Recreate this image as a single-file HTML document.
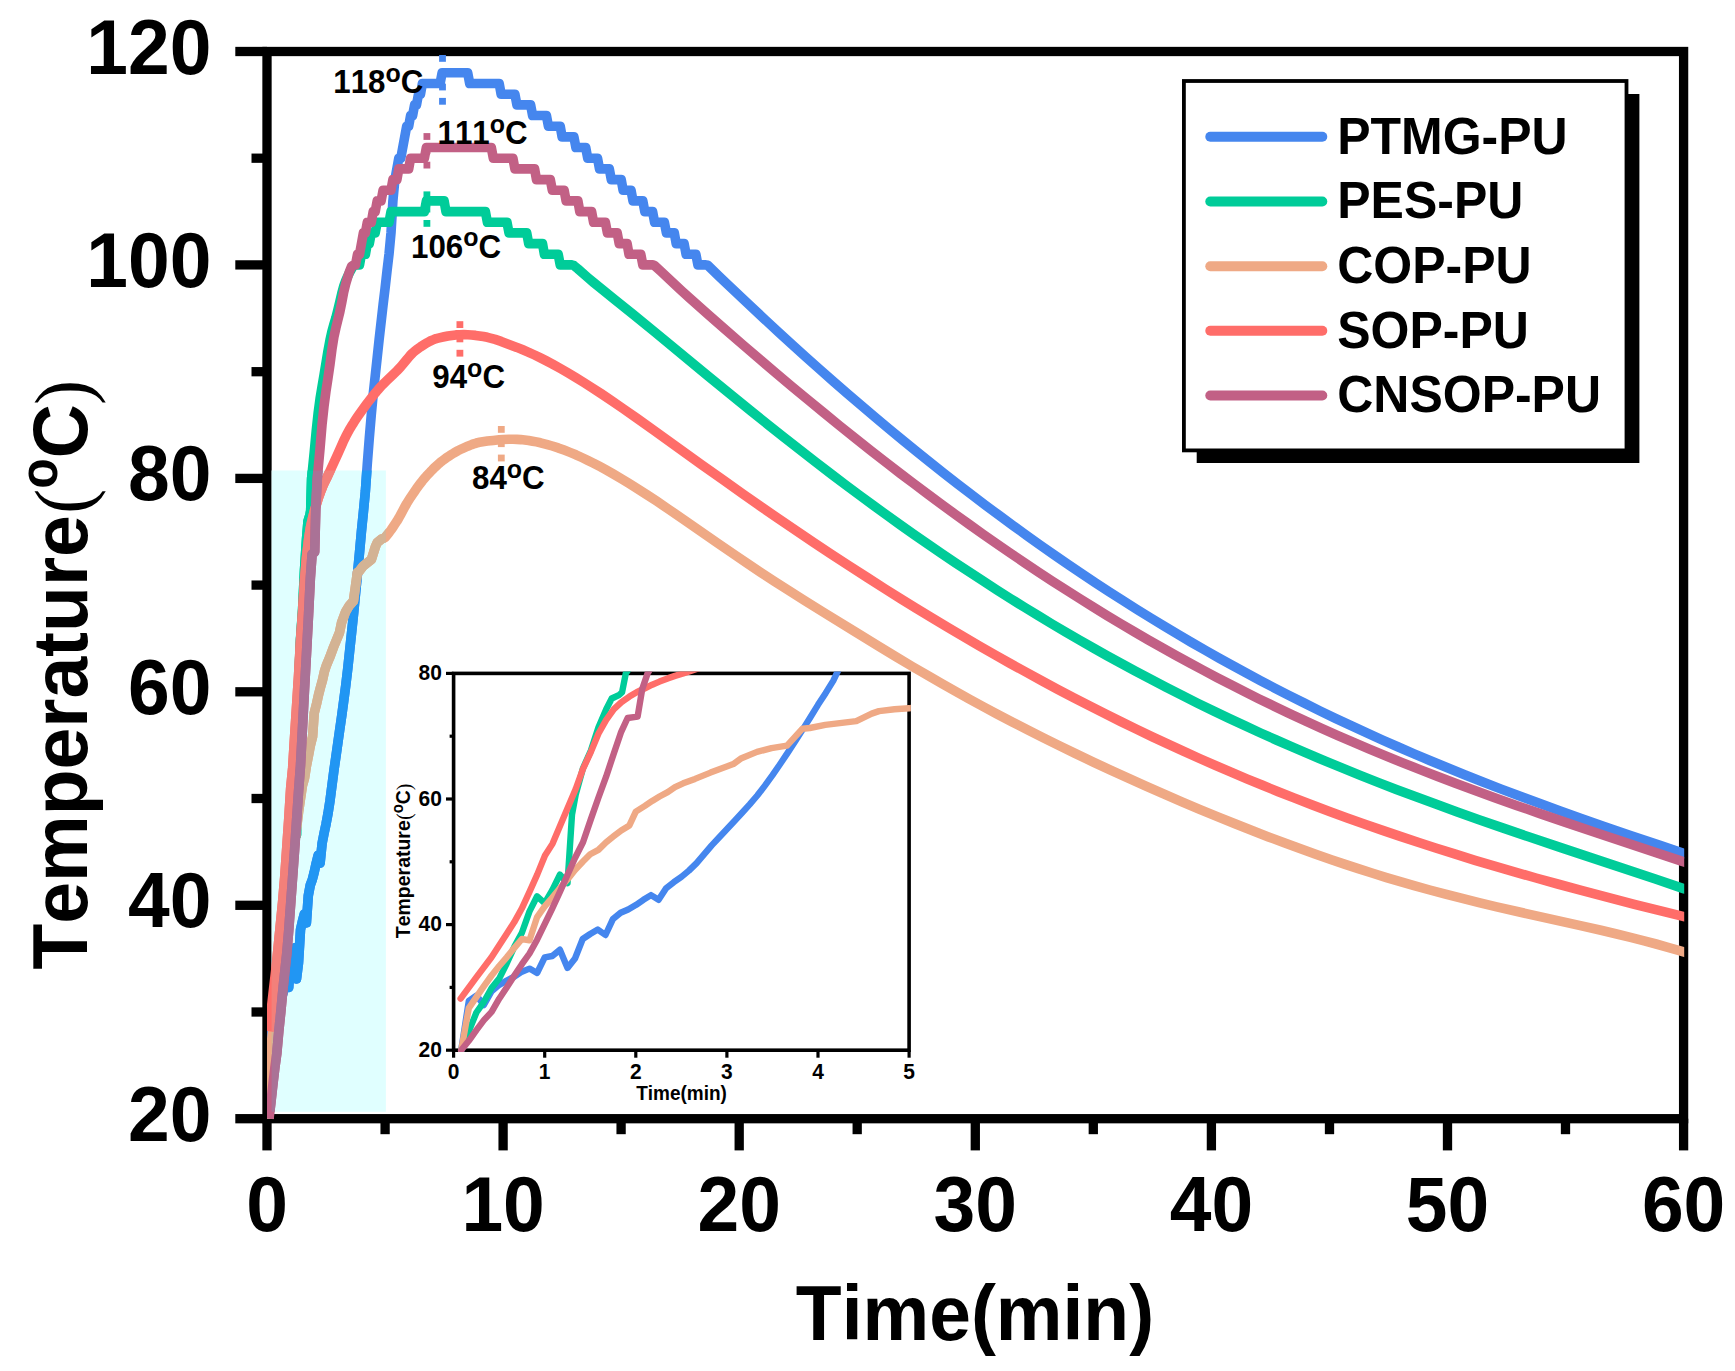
<!DOCTYPE html>
<html lang="en"><head><meta charset="utf-8"><title>Temperature vs Time</title>
<style>html,body{margin:0;padding:0;background:#fff}svg{display:block}text{font-kerning:none}</style></head>
<body>
<svg width="1735" height="1371" viewBox="0 0 1735 1371">
<defs><clipPath id="ic"><rect x="451.8" y="671.6" width="459.1" height="380.4"/></clipPath></defs>
<defs><clipPath id="mc"><rect x="267.0" y="50.5" width="1417.2" height="1069.0"/></clipPath></defs>
<defs><clipPath id="cy"><rect x="271.6" y="470.5" width="114.3" height="641.3"/></clipPath></defs>
<rect width="1735" height="1371" fill="#fff"/>
<g stroke="#000" stroke-width="9.3" fill="none" stroke-linecap="butt">
<rect x="267.0" y="51.5" width="1416.6" height="1067.2"/>
<line x1="267.0" y1="1118.7" x2="267.0" y2="1150.4"/>
<line x1="385.1" y1="1118.7" x2="385.1" y2="1134.2"/>
<line x1="503.1" y1="1118.7" x2="503.1" y2="1150.4"/>
<line x1="621.1" y1="1118.7" x2="621.1" y2="1134.2"/>
<line x1="739.2" y1="1118.7" x2="739.2" y2="1150.4"/>
<line x1="857.2" y1="1118.7" x2="857.2" y2="1134.2"/>
<line x1="975.3" y1="1118.7" x2="975.3" y2="1150.4"/>
<line x1="1093.3" y1="1118.7" x2="1093.3" y2="1134.2"/>
<line x1="1211.4" y1="1118.7" x2="1211.4" y2="1150.4"/>
<line x1="1329.5" y1="1118.7" x2="1329.5" y2="1134.2"/>
<line x1="1447.5" y1="1118.7" x2="1447.5" y2="1150.4"/>
<line x1="1565.5" y1="1118.7" x2="1565.5" y2="1134.2"/>
<line x1="1683.6" y1="1118.7" x2="1683.6" y2="1150.4"/>
<line x1="267.0" y1="1118.7" x2="235.3" y2="1118.7"/>
<line x1="267.0" y1="1012.0" x2="251.5" y2="1012.0"/>
<line x1="267.0" y1="905.3" x2="235.3" y2="905.3"/>
<line x1="267.0" y1="798.5" x2="251.5" y2="798.5"/>
<line x1="267.0" y1="691.8" x2="235.3" y2="691.8"/>
<line x1="267.0" y1="585.1" x2="251.5" y2="585.1"/>
<line x1="267.0" y1="478.4" x2="235.3" y2="478.4"/>
<line x1="267.0" y1="371.7" x2="251.5" y2="371.7"/>
<line x1="267.0" y1="264.9" x2="235.3" y2="264.9"/>
<line x1="267.0" y1="158.2" x2="251.5" y2="158.2"/>
<line x1="267.0" y1="51.5" x2="235.3" y2="51.5"/>
</g>
<rect x="271.6" y="470.5" width="114.3" height="641.3" fill="#E0FFFF"/>
<g fill="none" stroke-width="9.6" stroke-linejoin="round" stroke-linecap="butt" clip-path="url(#mc)">
<path stroke="#4586EE" d="M269.0,1118.7 L270.9,1034.9 L272.9,1025.9 L274.9,1041.9 L276.8,1018.4 L278.8,1007.7 L280.8,1000.2 L282.7,993.8 L284.7,985.3 L286.7,980.0 L288.7,987.4 L290.6,960.8 L292.6,958.6 L294.6,947.9 L296.5,978.9 L298.5,962.9 L300.5,929.8 L302.4,921.3 L304.4,913.8 L306.4,922.9 L308.3,895.7 L310.3,885.0 L312.3,879.6 L314.2,872.2 L316.2,863.1 L318.2,855.1 L320.1,863.1 L322.1,843.4 L324.1,833.2 L326.0,824.2 L328.0,813.5 L330.0,800.7 L333.9,770.6 L335.9,756.7 L339.8,729.2 L341.8,715.2 L343.7,701.0 L345.7,685.8 L347.7,669.1 L349.6,651.2 L351.6,632.6 L353.6,613.4 L355.5,593.8 L357.5,573.6 L359.5,552.7 L361.4,531.7 L363.4,512.0 L365.4,491.0 L367.3,463.9 L369.3,438.2 L371.3,414.7 L373.2,394.4 L375.2,375.9 L377.2,357.5 L379.1,339.8 L383.1,304.6 L385.1,288.2 L387.0,271.1 L389.0,254.3 L391.0,232.9 L392.9,200.9 L394.9,179.6 L398.8,158.2 L400.8,158.2 L406.7,126.2 L408.7,126.2 L410.6,115.5 L412.6,115.5 L414.6,104.9 L416.5,104.9 L418.5,94.2 L420.5,94.2 L422.4,83.5 L440.1,83.5 L442.1,72.8 L467.7,72.8 L469.7,83.5 L499.2,83.5 L501.1,94.2 L514.9,94.2 L516.9,104.9 L530.6,104.9 L532.6,115.5 L546.4,115.5 L548.4,126.2 L560.2,126.2 L562.1,136.9 L573.9,136.9 L575.9,147.5 L585.7,147.5 L587.7,158.2 L597.5,158.2 L599.5,168.9 L609.3,168.9 L611.3,179.6 L621.2,179.6 L623.1,190.2 L631.0,190.2 L633.0,200.9 L642.8,200.9 L644.8,211.6 L652.6,211.6 L654.6,222.3 L664.4,222.3 L666.4,232.9 L674.3,232.9 L676.2,243.6 L684.1,243.6 L686.1,254.3 L695.9,254.3 L697.9,264.9 L705.8,264.9 L707.7,265.3 L719.5,276.8 L727.4,284.3 L751.0,306.6 L764.8,319.4 L778.6,332.2 L792.3,344.7 L806.1,357.2 L819.9,369.5 L833.6,381.6 L847.4,393.6 L861.2,405.4 L875.0,417.1 L888.7,428.7 L902.5,440.0 L916.3,451.2 L930.0,462.3 L943.8,473.2 L957.6,484.0 L971.4,494.5 L985.1,505.0 L998.9,515.2 L1012.7,525.3 L1026.5,535.3 L1040.2,545.1 L1054.0,554.7 L1067.8,564.2 L1081.5,573.5 L1095.3,582.7 L1109.1,591.7 L1122.9,600.5 L1136.6,609.2 L1150.4,617.8 L1164.2,626.1 L1178.0,634.4 L1191.7,642.5 L1205.5,650.4 L1219.3,658.2 L1233.0,665.8 L1246.8,673.3 L1260.6,680.7 L1274.4,687.9 L1288.1,695.0 L1303.9,702.9 L1319.6,710.7 L1335.4,718.3 L1351.1,725.7 L1366.8,732.9 L1382.6,740.1 L1398.3,747.0 L1414.1,753.8 L1429.8,760.5 L1447.5,767.8 L1465.2,775.0 L1482.9,782.0 L1500.6,788.9 L1520.3,796.3 L1540.0,803.6 L1559.6,810.8 L1581.3,818.5 L1604.9,826.7 L1630.5,835.5 L1660.0,845.4 L1683.6,853.3 L1693.0,856.4"/>
<path stroke="#2196F3" clip-path="url(#cy)" d="M269.0,1118.7 L270.9,1034.9 L272.9,1025.9 L274.9,1041.9 L276.8,1018.4 L278.8,1007.7 L280.8,1000.2 L282.7,993.8 L284.7,985.3 L286.7,980.0 L288.7,987.4 L290.6,960.8 L292.6,958.6 L294.6,947.9 L296.5,978.9 L298.5,962.9 L300.5,929.8 L302.4,921.3 L304.4,913.8 L306.4,922.9 L308.3,895.7 L310.3,885.0 L312.3,879.6 L314.2,872.2 L316.2,863.1 L318.2,855.1 L320.1,863.1 L322.1,843.4 L324.1,833.2 L326.0,824.2 L328.0,813.5 L330.0,800.7 L333.9,770.6 L335.9,756.7 L339.8,729.2 L341.8,715.2 L343.7,701.0 L345.7,685.8 L347.7,669.1 L349.6,651.2 L351.6,632.6 L353.6,613.4 L355.5,593.8 L357.5,573.6 L359.5,552.7 L361.4,531.7 L363.4,512.0 L365.4,491.0 L367.3,463.9 L369.3,438.2 L371.3,414.7 L373.2,394.4 L375.2,375.9 L377.2,357.5 L379.1,339.8 L383.1,304.6 L385.1,288.2 L387.0,271.1 L389.0,254.3 L391.0,232.9 L392.9,200.9 L394.9,179.6 L398.8,158.2 L400.8,158.2 L406.7,126.2 L408.7,126.2 L410.6,115.5 L412.6,115.5 L414.6,104.9 L416.5,104.9 L418.5,94.2 L420.5,94.2 L422.4,83.5 L440.1,83.5 L442.1,72.8 L453.9,72.8"/>
<path stroke="#00CC99" d="M269.0,1118.7 L270.9,1086.7 L272.9,1054.7 L274.9,1036.5 L276.8,1013.0 L278.8,997.0 L280.8,971.4 L282.7,942.6 L284.7,919.1 L286.7,882.8 L288.7,857.2 L290.6,869.0 L292.6,846.6 L294.6,820.4 L296.5,834.8 L297.7,718.5 L298.6,684.3 L300.5,639.5 L302.6,609.6 L304.5,570.2 L306.5,539.2 L308.0,521.1 L310.0,514.7 L310.7,510.4 L311.6,478.4 L314.2,452.6 L316.2,431.2 L318.2,412.6 L320.1,398.4 L322.1,386.2 L324.1,374.6 L328.0,350.8 L330.0,340.1 L331.9,331.5 L333.9,324.3 L335.9,317.6 L337.8,310.3 L339.8,301.9 L341.8,293.3 L343.7,286.1 L345.7,280.8 L347.7,276.3 L349.6,272.4 L351.6,268.8 L353.6,265.5 L355.5,264.9 L359.5,264.9 L361.4,254.3 L365.4,254.3 L367.3,243.6 L369.3,243.6 L371.3,232.9 L375.2,232.9 L377.2,222.3 L389.0,222.3 L391.0,211.6 L424.4,211.6 L426.4,200.9 L444.1,200.9 L446.0,211.6 L485.4,211.6 L487.4,222.3 L507.0,222.3 L509.0,232.9 L526.7,232.9 L528.7,243.6 L542.5,243.6 L544.4,254.3 L558.2,254.3 L560.2,264.9 L572.0,264.9 L573.9,265.6 L577.9,268.9 L587.7,277.5 L593.6,282.5 L599.5,287.3 L615.2,299.9 L633.0,314.2 L654.6,331.9 L707.7,375.7 L731.3,395.0 L751.0,411.0 L768.7,425.2 L784.5,437.7 L800.2,450.1 L815.9,462.3 L831.7,474.4 L845.4,484.8 L859.2,495.0 L873.0,505.2 L886.8,515.2 L900.5,525.0 L914.3,534.7 L928.1,544.3 L941.9,553.7 L955.6,563.0 L969.4,572.1 L983.2,581.1 L996.9,590.0 L1010.7,598.7 L1024.5,607.3 L1038.3,615.7 L1052.0,624.0 L1065.8,632.1 L1079.6,640.1 L1093.4,648.0 L1107.1,655.7 L1120.9,663.3 L1134.7,670.8 L1150.4,679.1 L1166.1,687.3 L1181.9,695.3 L1197.6,703.2 L1213.4,710.9 L1229.1,718.4 L1244.8,725.7 L1260.6,733.0 L1276.3,740.0 L1292.1,746.9 L1307.8,753.7 L1325.5,761.2 L1343.2,768.4 L1360.9,775.6 L1378.6,782.6 L1396.3,789.4 L1416.0,796.8 L1435.7,804.1 L1457.3,812.0 L1479.0,819.7 L1502.6,827.9 L1530.1,837.3 L1561.6,847.9 L1656.1,879.3 L1683.6,888.6 L1693.0,891.7"/>
<path stroke="#00D2A4" clip-path="url(#cy)" d="M269.0,1118.7 L270.9,1086.7 L272.9,1054.7 L274.9,1036.5 L276.8,1013.0 L278.8,997.0 L280.8,971.4 L282.7,942.6 L284.7,919.1 L286.7,882.8 L288.7,857.2 L290.6,869.0 L292.6,846.6 L294.6,820.4 L296.5,834.8 L297.7,718.5 L298.6,684.3 L300.5,639.5 L302.6,609.6 L304.5,570.2 L306.5,539.2 L308.0,521.1 L310.0,514.7 L310.7,510.4 L311.6,478.4 L314.2,452.6 L316.2,431.2 L318.2,412.6 L320.1,398.4 L322.1,386.2 L324.1,374.6 L328.0,350.8 L330.0,340.1 L331.9,331.5 L333.9,324.3 L335.9,317.6 L337.8,310.3 L339.8,301.9 L341.8,293.3 L343.7,286.1 L345.7,280.8 L347.7,276.3 L349.6,272.4 L351.6,268.8 L353.6,265.5 L355.5,264.9 L359.5,264.9 L361.4,254.3 L365.4,254.3 L367.3,243.6 L369.3,243.6 L371.3,232.9 L375.2,232.9 L377.2,222.3 L389.0,222.3 L391.0,211.6 L424.4,211.6 L426.4,200.9 L444.1,200.9 L446.0,211.6 L453.9,211.6"/>
<path stroke="#EFA985" d="M269.0,1118.7 L270.9,1047.2 L274.9,1009.8 L276.8,991.7 L278.8,975.7 L280.8,960.8 L282.7,944.7 L284.7,929.8 L286.7,931.9 L288.7,892.5 L290.6,874.3 L292.6,859.4 L294.6,843.4 L296.5,828.4 L298.5,812.4 L300.5,798.5 L302.4,785.7 L304.5,778.3 L306.5,765.5 L308.6,754.8 L310.4,745.2 L312.6,736.6 L314.2,713.2 L316.6,703.6 L318.5,695.0 L320.4,687.6 L322.5,680.1 L324.4,671.5 L326.5,665.1 L329.6,657.7 L333.6,647.0 L339.5,632.6 L341.6,622.5 L345.6,611.8 L349.4,605.4 L353.4,601.1 L357.4,572.3 L359.3,571.2 L363.3,565.9 L371.4,559.5 L375.4,546.7 L377.3,542.4 L381.3,539.2 L385.1,537.6 L389.0,532.7 L391.0,530.0 L392.9,527.2 L394.9,524.2 L396.9,521.2 L398.8,518.0 L400.8,514.4 L404.7,507.0 L406.7,503.5 L410.6,497.3 L412.6,494.3 L414.6,491.4 L416.5,488.6 L418.5,485.9 L420.5,483.3 L422.4,480.8 L424.4,478.4 L426.4,476.1 L430.3,471.9 L432.3,469.9 L434.2,467.9 L436.2,466.1 L438.2,464.3 L440.1,462.6 L442.1,461.0 L446.0,458.1 L450.0,455.4 L453.9,453.0 L457.8,450.8 L461.8,448.8 L467.7,446.2 L471.6,444.6 L473.6,443.9 L475.6,443.3 L477.5,442.7 L479.5,442.3 L487.4,441.1 L493.3,440.4 L499.2,439.8 L503.1,439.5 L509.0,439.3 L512.9,439.3 L516.9,439.4 L520.8,439.6 L524.7,440.0 L528.7,440.5 L532.6,441.2 L536.5,441.9 L540.5,442.8 L546.4,444.3 L552.3,446.0 L558.2,447.9 L564.1,450.1 L570.0,452.4 L575.9,454.8 L581.8,457.5 L587.7,460.3 L593.6,463.2 L599.5,466.3 L605.4,469.5 L613.3,474.0 L621.1,478.6 L629.0,483.4 L636.9,488.3 L646.7,494.6 L656.6,501.1 L668.4,509.1 L684.1,519.9 L717.6,543.1 L733.3,553.9 L747.1,563.2 L760.8,572.4 L774.6,581.5 L788.4,590.3 L804.1,600.3 L823.8,612.5 L853.3,630.7 L878.9,646.4 L896.6,657.1 L912.3,666.5 L928.1,675.7 L941.9,683.6 L955.6,691.4 L969.4,699.1 L983.2,706.6 L996.9,713.9 L1012.7,722.2 L1028.4,730.3 L1044.2,738.2 L1059.9,746.0 L1075.6,753.6 L1093.3,762.1 L1111.1,770.3 L1128.8,778.4 L1146.5,786.4 L1164.2,794.2 L1181.9,801.8 L1199.6,809.3 L1217.3,816.6 L1235.0,823.8 L1252.7,830.8 L1268.5,836.9 L1284.2,842.8 L1299.9,848.6 L1315.7,854.3 L1331.4,859.8 L1345.2,864.4 L1359.0,868.9 L1372.7,873.3 L1386.5,877.6 L1400.3,881.7 L1414.1,885.6 L1429.8,890.0 L1445.5,894.2 L1461.3,898.2 L1479.0,902.6 L1496.7,906.8 L1518.3,911.8 L1579.3,925.4 L1601.0,930.3 L1616.7,934.0 L1630.5,937.3 L1644.2,940.8 L1656.1,944.0 L1667.9,947.3 L1677.7,950.1 L1683.6,951.9 L1693.0,954.7"/>
<path stroke="#D3B394" clip-path="url(#cy)" d="M269.0,1118.7 L270.9,1047.2 L274.9,1009.8 L276.8,991.7 L278.8,975.7 L280.8,960.8 L282.7,944.7 L284.7,929.8 L286.7,931.9 L288.7,892.5 L290.6,874.3 L292.6,859.4 L294.6,843.4 L296.5,828.4 L298.5,812.4 L300.5,798.5 L302.4,785.7 L304.5,778.3 L306.5,765.5 L308.6,754.8 L310.4,745.2 L312.6,736.6 L314.2,713.2 L316.6,703.6 L318.5,695.0 L320.4,687.6 L322.5,680.1 L324.4,671.5 L326.5,665.1 L329.6,657.7 L333.6,647.0 L339.5,632.6 L341.6,622.5 L345.6,611.8 L349.4,605.4 L353.4,601.1 L357.4,572.3 L359.3,571.2 L363.3,565.9 L371.4,559.5 L375.4,546.7 L377.3,542.4 L381.3,539.2 L385.1,537.6 L389.0,532.7 L391.0,530.0 L392.9,527.2 L394.9,524.2 L396.9,521.2 L398.8,518.0 L400.8,514.4 L404.7,507.0 L406.7,503.5 L410.6,497.3 L412.6,494.3 L414.6,491.4 L416.5,488.6 L418.5,485.9 L420.5,483.3 L422.4,480.8 L424.4,478.4 L426.4,476.1 L430.3,471.9 L432.3,469.9 L434.2,467.9 L436.2,466.1 L438.2,464.3 L440.1,462.6 L442.1,461.0 L446.0,458.1 L450.0,455.4 L453.9,453.0 L455.9,451.8"/>
<path stroke="#FF6D69" d="M268.8,1031.2 L272.9,994.9 L276.8,960.8 L280.7,921.3 L282.7,901.0 L284.7,877.5 L286.7,848.7 L288.7,819.9 L290.7,787.9 L292.7,767.6 L294.6,736.6 L298.6,674.7 L300.5,640.6 L302.6,611.8 L304.5,580.8 L306.5,557.4 L308.6,539.2 L310.4,527.5 L312.6,517.9 L314.5,510.4 L316.5,504.0 L318.5,497.6 L320.4,492.3 L322.5,486.9 L324.4,482.6 L326.5,478.4 L333.9,462.4 L337.8,453.9 L341.8,445.1 L343.7,440.7 L345.7,436.6 L347.7,432.8 L349.6,429.2 L351.6,425.9 L353.6,422.8 L355.5,419.7 L357.5,416.8 L361.4,411.2 L367.3,403.1 L371.3,398.0 L375.2,393.1 L377.2,390.7 L379.1,388.5 L381.1,386.3 L383.1,384.2 L387.0,380.4 L392.9,374.8 L396.9,370.9 L398.8,368.9 L400.8,366.7 L406.7,359.6 L408.7,357.2 L410.6,355.0 L412.6,353.0 L414.6,351.2 L416.5,349.7 L420.5,346.9 L424.4,344.4 L426.4,343.2 L428.3,342.1 L430.3,341.0 L432.3,340.1 L434.2,339.3 L436.2,338.6 L438.2,338.1 L444.1,336.8 L448.0,336.0 L451.9,335.4 L455.9,334.9 L459.8,334.7 L463.8,334.6 L467.7,334.8 L471.6,335.0 L475.6,335.4 L479.5,335.9 L483.4,336.5 L487.4,337.3 L491.3,338.3 L495.2,339.4 L501.1,341.4 L509.0,344.4 L516.9,347.4 L522.8,349.8 L528.7,352.3 L534.6,355.0 L540.5,357.9 L546.4,360.9 L552.3,364.0 L560.2,368.4 L568.0,372.9 L575.9,377.6 L583.8,382.5 L591.6,387.5 L601.5,393.9 L611.3,400.5 L623.1,408.6 L636.9,418.2 L654.6,430.8 L701.8,464.8 L723.5,480.2 L743.1,494.1 L760.8,506.5 L778.6,518.7 L796.3,530.7 L814.0,542.7 L831.7,554.4 L849.4,566.0 L867.1,577.4 L884.8,588.7 L900.5,598.6 L916.3,608.3 L932.0,617.9 L947.8,627.4 L963.5,636.7 L979.2,645.8 L995.0,654.8 L1010.7,663.7 L1026.5,672.4 L1042.2,681.0 L1057.9,689.4 L1073.7,697.7 L1089.4,705.8 L1105.2,713.8 L1120.9,721.6 L1136.6,729.3 L1152.4,736.8 L1168.1,744.2 L1183.9,751.4 L1199.6,758.5 L1215.3,765.4 L1231.1,772.2 L1246.8,778.8 L1262.6,785.3 L1278.3,791.7 L1294.0,797.9 L1311.7,804.7 L1329.5,811.4 L1347.2,817.9 L1364.9,824.2 L1382.6,830.4 L1400.3,836.4 L1418.0,842.3 L1435.7,848.0 L1455.4,854.2 L1475.0,860.3 L1494.7,866.1 L1514.4,871.9 L1536.0,878.0 L1557.7,884.0 L1581.3,890.4 L1606.9,897.2 L1634.4,904.3 L1665.9,912.2 L1693.0,918.9"/>
<path stroke="#F3807A" clip-path="url(#cy)" d="M268.8,1031.2 L272.9,994.9 L276.8,960.8 L280.7,921.3 L282.7,901.0 L284.7,877.5 L286.7,848.7 L288.7,819.9 L290.7,787.9 L292.7,767.6 L294.6,736.6 L298.6,674.7 L300.5,640.6 L302.6,611.8 L304.5,580.8 L306.5,557.4 L308.6,539.2 L310.4,527.5 L312.6,517.9 L314.5,510.4 L316.5,504.0 L318.5,497.6 L320.4,492.3 L322.5,486.9 L324.4,482.6 L326.5,478.4 L333.9,462.4 L337.8,453.9 L341.8,445.1 L343.7,440.7 L345.7,436.6 L347.7,432.8 L349.6,429.2 L351.6,425.9 L353.6,422.8 L355.5,419.7 L357.5,416.8 L361.4,411.2 L367.3,403.1 L371.3,398.0 L375.2,393.1 L377.2,390.7 L379.1,388.5 L381.1,386.3 L383.1,384.2 L387.0,380.4 L392.9,374.8 L396.9,370.9 L398.8,368.9 L400.8,366.7 L406.7,359.6 L408.7,357.2 L410.6,355.0 L412.6,353.0 L414.6,351.2 L416.5,349.7 L420.5,346.9 L424.4,344.4 L426.4,343.2 L428.3,342.1 L430.3,341.0 L432.3,340.1 L434.2,339.3 L436.2,338.6 L438.2,338.1 L444.1,336.8 L448.0,336.0 L451.9,335.4 L453.9,335.2"/>
<path stroke="#C26085" d="M269.0,1118.7 L270.9,1102.7 L272.9,1084.5 L274.9,1067.5 L276.8,1053.6 L278.8,1031.2 L280.8,1012.0 L282.7,991.7 L284.7,972.5 L286.7,954.4 L288.7,930.9 L292.6,877.5 L294.6,849.8 L298.5,792.1 L300.5,765.5 L302.6,726.0 L304.5,689.7 L306.5,653.4 L308.6,613.9 L310.4,577.6 L312.1,554.2 L314.7,552.0 L315.9,505.1 L317.3,478.4 L320.1,447.9 L322.1,423.9 L324.1,405.5 L326.0,391.1 L328.0,378.1 L330.0,364.3 L331.9,349.6 L333.9,337.1 L335.9,327.9 L337.8,320.1 L339.8,312.0 L341.8,302.3 L343.7,292.2 L345.7,283.8 L347.7,277.1 L349.6,271.3 L351.6,266.2 L353.6,264.9 L355.5,264.9 L357.5,254.3 L359.5,254.3 L363.4,232.9 L365.4,232.9 L367.3,222.3 L371.3,222.3 L373.2,211.6 L375.2,211.6 L377.2,200.9 L381.1,200.9 L383.1,190.2 L391.0,190.2 L392.9,179.6 L396.9,179.6 L398.8,168.9 L408.7,168.9 L410.6,158.2 L424.4,158.2 L426.4,147.5 L491.3,147.5 L493.3,158.2 L512.9,158.2 L514.9,168.9 L534.6,168.9 L536.5,179.6 L550.3,179.6 L552.3,190.2 L564.1,190.2 L566.1,200.9 L577.9,200.9 L579.8,211.6 L591.6,211.6 L593.6,222.3 L605.4,222.3 L607.4,232.9 L617.2,232.9 L619.2,243.6 L627.1,243.6 L629.0,254.3 L640.8,254.3 L642.8,264.9 L652.6,264.9 L654.6,265.6 L660.5,271.0 L676.2,285.8 L682.1,291.3 L690.0,298.4 L707.7,314.1 L725.4,329.6 L743.1,345.0 L760.8,360.2 L776.6,373.6 L792.3,386.8 L808.1,399.9 L823.8,412.8 L839.5,425.6 L855.3,438.2 L871.0,450.7 L886.8,463.0 L900.5,473.6 L914.3,484.0 L928.1,494.4 L941.9,504.6 L955.6,514.6 L969.4,524.5 L983.2,534.3 L996.9,543.9 L1010.7,553.4 L1024.5,562.7 L1038.3,571.9 L1052.0,580.9 L1065.8,589.8 L1079.6,598.5 L1093.4,607.1 L1107.1,615.6 L1120.9,623.8 L1134.7,632.0 L1148.4,640.0 L1162.2,647.8 L1176.0,655.5 L1189.8,663.0 L1203.5,670.4 L1217.3,677.7 L1231.1,684.8 L1244.8,691.8 L1258.6,698.7 L1274.4,706.3 L1290.1,713.8 L1305.8,721.1 L1321.6,728.3 L1337.3,735.3 L1353.1,742.1 L1368.8,748.8 L1384.5,755.4 L1402.2,762.6 L1420.0,769.6 L1437.7,776.5 L1455.4,783.2 L1475.0,790.5 L1494.7,797.7 L1516.4,805.4 L1540.0,813.6 L1565.6,822.4 L1597.0,833.0 L1681.6,861.1 L1693.0,864.9"/>
<path stroke="#AA7296" clip-path="url(#cy)" d="M269.0,1118.7 L270.9,1102.7 L272.9,1084.5 L274.9,1067.5 L276.8,1053.6 L278.8,1031.2 L280.8,1012.0 L282.7,991.7 L284.7,972.5 L286.7,954.4 L288.7,930.9 L292.6,877.5 L294.6,849.8 L298.5,792.1 L300.5,765.5 L302.6,726.0 L304.5,689.7 L306.5,653.4 L308.6,613.9 L310.4,577.6 L312.1,554.2 L314.7,552.0 L315.9,505.1 L317.3,478.4 L320.1,447.9 L322.1,423.9 L324.1,405.5 L326.0,391.1 L328.0,378.1 L330.0,364.3 L331.9,349.6 L333.9,337.1 L335.9,327.9 L337.8,320.1 L339.8,312.0 L341.8,302.3 L343.7,292.2 L345.7,283.8 L347.7,277.1 L349.6,271.3 L351.6,266.2 L353.6,264.9 L355.5,264.9 L357.5,254.3 L359.5,254.3 L363.4,232.9 L365.4,232.9 L367.3,222.3 L371.3,222.3 L373.2,211.6 L375.2,211.6 L377.2,200.9 L381.1,200.9 L383.1,190.2 L391.0,190.2 L392.9,179.6 L396.9,179.6 L398.8,168.9 L408.7,168.9 L410.6,158.2 L424.4,158.2 L426.4,147.5 L453.9,147.5"/>
</g>
<rect x="439.1" y="55.0" width="6.8" height="6.8" fill="#4586EE"/>
<rect x="439.1" y="69.3" width="6.8" height="6.8" fill="#4586EE"/>
<rect x="439.1" y="83.6" width="6.8" height="6.8" fill="#4586EE"/>
<rect x="439.1" y="97.9" width="6.8" height="6.8" fill="#4586EE"/>
<rect x="423.5" y="133.1" width="6.8" height="6.8" fill="#C26085"/>
<rect x="423.5" y="147.4" width="6.8" height="6.8" fill="#C26085"/>
<rect x="423.5" y="161.7" width="6.8" height="6.8" fill="#C26085"/>
<rect x="423.5" y="191.4" width="6.8" height="6.8" fill="#00CC99"/>
<rect x="423.5" y="205.7" width="6.8" height="6.8" fill="#00CC99"/>
<rect x="423.5" y="220.0" width="6.8" height="6.8" fill="#00CC99"/>
<rect x="456.5" y="321.2" width="6.8" height="6.8" fill="#FF6D69"/>
<rect x="456.5" y="335.5" width="6.8" height="6.8" fill="#FF6D69"/>
<rect x="456.5" y="349.8" width="6.8" height="6.8" fill="#FF6D69"/>
<rect x="497.9" y="426.0" width="6.8" height="6.8" fill="#EFA985"/>
<rect x="497.9" y="440.3" width="6.8" height="6.8" fill="#EFA985"/>
<rect x="497.9" y="454.6" width="6.8" height="6.8" fill="#EFA985"/>
<text transform="translate(333.3,93.2) scale(0.961,1)" text-anchor="start" font-family="'Liberation Sans', Arial, sans-serif" font-weight="bold" font-size="32.57" fill="#000">118<tspan font-size="26.02" dy="-11.2">o</tspan><tspan dy="11.2">C</tspan></text>
<text transform="translate(437.5,144.2) scale(0.961,1)" text-anchor="start" font-family="'Liberation Sans', Arial, sans-serif" font-weight="bold" font-size="32.57" fill="#000">111<tspan font-size="26.02" dy="-11.2">o</tspan><tspan dy="11.2">C</tspan></text>
<text transform="translate(411.0,257.5) scale(0.961,1)" text-anchor="start" font-family="'Liberation Sans', Arial, sans-serif" font-weight="bold" font-size="32.57" fill="#000">106<tspan font-size="26.02" dy="-11.2">o</tspan><tspan dy="11.2">C</tspan></text>
<text transform="translate(432.3,388.4) scale(0.961,1)" text-anchor="start" font-family="'Liberation Sans', Arial, sans-serif" font-weight="bold" font-size="32.57" fill="#000">94<tspan font-size="26.02" dy="-11.2">o</tspan><tspan dy="11.2">C</tspan></text>
<text transform="translate(472.0,489.2) scale(0.961,1)" text-anchor="start" font-family="'Liberation Sans', Arial, sans-serif" font-weight="bold" font-size="32.57" fill="#000">84<tspan font-size="26.02" dy="-11.2">o</tspan><tspan dy="11.2">C</tspan></text>
<text transform="translate(267.0,1231.3) scale(0.961,1)" text-anchor="middle" font-family="'Liberation Sans', Arial, sans-serif" font-weight="bold" font-size="78.05" fill="#000">0</text>
<text transform="translate(503.1,1231.3) scale(0.961,1)" text-anchor="middle" font-family="'Liberation Sans', Arial, sans-serif" font-weight="bold" font-size="78.05" fill="#000">10</text>
<text transform="translate(739.2,1231.3) scale(0.961,1)" text-anchor="middle" font-family="'Liberation Sans', Arial, sans-serif" font-weight="bold" font-size="78.05" fill="#000">20</text>
<text transform="translate(975.3,1231.3) scale(0.961,1)" text-anchor="middle" font-family="'Liberation Sans', Arial, sans-serif" font-weight="bold" font-size="78.05" fill="#000">30</text>
<text transform="translate(1211.4,1231.3) scale(0.961,1)" text-anchor="middle" font-family="'Liberation Sans', Arial, sans-serif" font-weight="bold" font-size="78.05" fill="#000">40</text>
<text transform="translate(1447.5,1231.3) scale(0.961,1)" text-anchor="middle" font-family="'Liberation Sans', Arial, sans-serif" font-weight="bold" font-size="78.05" fill="#000">50</text>
<text transform="translate(1683.6,1231.3) scale(0.961,1)" text-anchor="middle" font-family="'Liberation Sans', Arial, sans-serif" font-weight="bold" font-size="78.05" fill="#000">60</text>
<text transform="translate(211.5,1140.7) scale(0.961,1)" text-anchor="end" font-family="'Liberation Sans', Arial, sans-serif" font-weight="bold" font-size="78.05" fill="#000">20</text>
<text transform="translate(211.5,927.3) scale(0.961,1)" text-anchor="end" font-family="'Liberation Sans', Arial, sans-serif" font-weight="bold" font-size="78.05" fill="#000">40</text>
<text transform="translate(211.5,713.8) scale(0.961,1)" text-anchor="end" font-family="'Liberation Sans', Arial, sans-serif" font-weight="bold" font-size="78.05" fill="#000">60</text>
<text transform="translate(211.5,500.4) scale(0.961,1)" text-anchor="end" font-family="'Liberation Sans', Arial, sans-serif" font-weight="bold" font-size="78.05" fill="#000">80</text>
<text transform="translate(211.5,286.9) scale(0.961,1)" text-anchor="end" font-family="'Liberation Sans', Arial, sans-serif" font-weight="bold" font-size="78.05" fill="#000">100</text>
<text transform="translate(211.5,73.5) scale(0.961,1)" text-anchor="end" font-family="'Liberation Sans', Arial, sans-serif" font-weight="bold" font-size="78.05" fill="#000">120</text>
<text transform="translate(975.0,1339.5) scale(0.961,1)" text-anchor="middle" font-family="'Liberation Sans', Arial, sans-serif" font-weight="bold" font-size="78.05" fill="#000">Time(min)</text>
<text transform="translate(86.5,969.5) rotate(-90) scale(0.961,1)" text-anchor="start" font-family="'Liberation Sans', Arial, sans-serif" font-weight="bold" font-size="78.05" fill="#000">Temperature<tspan font-family="'Liberation Serif', 'Times New Roman', serif" font-weight="normal" font-size="78" dx="1.5" dy="2">(</tspan><tspan font-size="52.03" dx="0" dy="-32">o</tspan><tspan dy="30">C</tspan><tspan font-family="'Liberation Serif', 'Times New Roman', serif" font-weight="normal" font-size="78" dx="-1" dy="2">)</tspan></text>
<rect x="1196.7" y="94" width="442.7" height="369" fill="#000"/>
<rect x="1183.9" y="81" width="442.6" height="369.4" fill="#fff" stroke="#000" stroke-width="3.8"/>
<line x1="1210.3" y1="136.8" x2="1322.3" y2="136.8" stroke="#4586EE" stroke-width="10" stroke-linecap="round"/>
<text transform="translate(1337.2,153.7) scale(0.961,1)" text-anchor="start" font-family="'Liberation Sans', Arial, sans-serif" font-weight="bold" font-size="52.03" fill="#000">PTMG-PU</text>
<line x1="1210.3" y1="201.5" x2="1322.3" y2="201.5" stroke="#00CC99" stroke-width="10" stroke-linecap="round"/>
<text transform="translate(1337.2,218.4) scale(0.961,1)" text-anchor="start" font-family="'Liberation Sans', Arial, sans-serif" font-weight="bold" font-size="52.03" fill="#000">PES-PU</text>
<line x1="1210.3" y1="266.2" x2="1322.3" y2="266.2" stroke="#EFA985" stroke-width="10" stroke-linecap="round"/>
<text transform="translate(1337.2,283.1) scale(0.961,1)" text-anchor="start" font-family="'Liberation Sans', Arial, sans-serif" font-weight="bold" font-size="52.03" fill="#000">COP-PU</text>
<line x1="1210.3" y1="330.8" x2="1322.3" y2="330.8" stroke="#FF6D69" stroke-width="10" stroke-linecap="round"/>
<text transform="translate(1337.2,347.7) scale(0.961,1)" text-anchor="start" font-family="'Liberation Sans', Arial, sans-serif" font-weight="bold" font-size="52.03" fill="#000">SOP-PU</text>
<line x1="1210.3" y1="395.5" x2="1322.3" y2="395.5" stroke="#C26085" stroke-width="10" stroke-linecap="round"/>
<text transform="translate(1337.2,412.4) scale(0.961,1)" text-anchor="start" font-family="'Liberation Sans', Arial, sans-serif" font-weight="bold" font-size="52.03" fill="#000">CNSOP-PU</text>
<g stroke="#000" stroke-width="3.6" fill="none">
<rect x="453.6" y="673.4" width="455.5" height="376.8"/>
<line x1="453.6" y1="1050.2" x2="453.6" y2="1057.7" stroke-width="3.2"/>
<line x1="544.7" y1="1050.2" x2="544.7" y2="1057.7" stroke-width="3.2"/>
<line x1="635.8" y1="1050.2" x2="635.8" y2="1057.7" stroke-width="3.2"/>
<line x1="726.9" y1="1050.2" x2="726.9" y2="1057.7" stroke-width="3.2"/>
<line x1="818.0" y1="1050.2" x2="818.0" y2="1057.7" stroke-width="3.2"/>
<line x1="909.1" y1="1050.2" x2="909.1" y2="1057.7" stroke-width="3.2"/>
<line x1="453.6" y1="1050.2" x2="446.0" y2="1050.2" stroke-width="3.2"/>
<line x1="453.6" y1="987.4" x2="449.6" y2="987.4" stroke-width="3.2"/>
<line x1="453.6" y1="924.6" x2="446.0" y2="924.6" stroke-width="3.2"/>
<line x1="453.6" y1="861.8" x2="449.6" y2="861.8" stroke-width="3.2"/>
<line x1="453.6" y1="799.0" x2="446.0" y2="799.0" stroke-width="3.2"/>
<line x1="453.6" y1="736.2" x2="449.6" y2="736.2" stroke-width="3.2"/>
<line x1="453.6" y1="673.4" x2="446.0" y2="673.4" stroke-width="3.2"/>
</g>
<g fill="none" stroke-width="6.4" stroke-linejoin="round" stroke-linecap="round" clip-path="url(#ic)">
<path stroke="#4586EE" d="M461.2,1050.2 L468.8,1000.9 L476.4,995.6 L483.9,1005.0 L491.6,991.2 L499.2,984.9 L506.7,980.5 L514.4,976.7 L521.9,971.7 L529.5,968.6 L537.1,973.0 L544.7,957.3 L552.3,956.0 L559.9,949.7 L567.5,967.9 L575.0,958.5 L582.7,939.0 L590.2,934.0 L597.8,929.6 L605.5,935.0 L613.0,918.9 L620.6,912.7 L628.2,909.5 L635.8,905.1 L643.4,899.8 L651.0,895.1 L658.6,899.8 L666.1,888.2 L673.8,882.2 L681.4,876.9 L688.9,870.6 L696.6,863.1 L711.7,845.4 L719.3,837.2 L734.5,821.0 L742.1,812.8 L749.7,804.4 L757.3,795.5 L764.9,785.6 L772.5,775.1 L780.0,764.2 L787.6,752.9 L795.2,741.3 L802.8,729.4 L810.4,717.2 L818.0,704.8 L825.6,693.2 L833.2,680.8 L840.8,664.9 L848.4,649.7 L856.0,635.9 L863.6,624.0 L871.1,613.1 L878.7,602.3 L886.3,591.8 L901.5,571.2 L909.1,561.5 L916.7,551.4 L924.3,541.5"/>
<path stroke="#00CC99" d="M461.2,1050.2 L468.8,1031.4 L476.4,1012.5 L483.9,1001.8 L491.6,988.0 L499.2,978.6 L506.7,963.5 L514.4,946.6 L521.9,932.8 L529.5,911.4 L537.1,896.3 L544.7,903.2 L552.3,890.1 L559.9,874.7 L567.5,883.2 L572.0,814.7 L575.7,794.6 L583.0,768.2 L590.9,750.6 L598.4,727.4 L606.2,709.2 L611.7,698.5 L619.4,694.8 L622.1,692.2 L625.8,673.4 L635.8,658.2 L643.4,645.6 L651.0,634.7 L658.6,626.3 L666.2,619.1 L673.8,612.4 L688.9,598.3 L696.5,592.0 L704.1,587.0 L711.7,582.8 L719.3,578.8 L726.9,574.5 L734.5,569.6 L742.1,564.5 L749.7,560.2 L757.3,557.1 L764.9,554.5 L772.5,552.2 L780.0,550.1 L787.6,548.2 L795.2,547.8 L810.4,547.8 L818.0,541.5 L833.2,541.5 L840.8,535.2 L848.4,535.2 L856.0,529.0 L871.1,529.0 L878.7,522.7 L924.3,522.7"/>
<path stroke="#EFA985" d="M461.2,1050.2 L468.8,1008.1 L483.9,986.1 L491.6,975.5 L499.2,966.0 L506.7,957.3 L514.4,947.8 L521.9,939.0 L529.5,940.3 L537.1,917.1 L544.7,906.4 L552.3,897.6 L559.9,888.2 L567.5,879.4 L575.0,870.0 L582.7,861.8 L590.2,854.3 L598.4,849.9 L606.2,842.3 L613.9,836.1 L621.2,830.4 L629.4,825.4 L635.8,811.6 L644.9,805.9 L652.2,800.9 L659.5,796.5 L667.7,792.1 L675.0,787.1 L683.2,783.3 L695.0,778.9 L710.5,772.6 L733.3,764.1 L741.5,758.2 L757.0,751.9 L771.5,748.1 L787.0,745.6 L802.5,728.7 L809.8,728.0 L825.3,724.9 L856.3,721.1 L871.7,713.6 L879.0,711.1 L894.5,709.2 L909.1,708.3 L924.3,705.3"/>
<path stroke="#FF6D69" d="M460.6,998.7 L476.3,977.4 L491.5,957.3 L506.6,934.0 L514.3,922.1 L521.9,908.3 L529.7,891.3 L537.3,874.4 L545.0,855.5 L552.6,843.6 L560.2,825.4 L575.7,789.0 L583.0,768.9 L590.9,751.9 L598.4,733.7 L606.2,719.9 L613.9,709.2 L621.2,702.3 L629.4,696.6 L636.7,692.2 L644.5,688.5 L652.2,684.7 L659.5,681.6 L667.7,678.4 L675.0,675.9 L683.2,673.4 L704.1,666.5 L719.3,661.5 L726.9,659.0 L742.1,653.8 L749.7,651.2 L757.3,648.8 L764.9,646.5 L772.5,644.5 L780.0,642.5 L787.6,640.7 L795.2,638.9 L802.8,637.2 L810.4,635.5 L818.0,633.9 L833.2,630.7 L840.8,629.1 L848.4,627.6 L856.0,626.1 L863.6,624.6 L871.1,623.2 L878.7,621.8 L886.3,620.5 L893.9,619.2 L901.5,618.0 L909.1,616.8 L916.7,615.7 L924.3,614.6"/>
<path stroke="#C26085" d="M461.2,1050.2 L468.8,1040.8 L476.4,1030.1 L483.9,1020.1 L491.6,1011.9 L499.2,998.7 L506.7,987.4 L514.4,975.5 L521.9,964.2 L529.5,953.5 L537.1,939.7 L552.3,908.3 L559.9,891.9 L575.0,858.0 L583.0,842.3 L590.9,819.1 L598.4,797.7 L606.2,776.4 L613.9,753.2 L621.2,731.8 L627.6,718.0 L637.6,716.7 L642.2,689.1 L647.6,673.4 L658.6,655.5 L666.2,641.4 L673.8,630.5 L681.4,622.1 L688.9,614.4 L696.5,606.3 L704.1,597.6 L711.7,590.3 L719.3,584.8 L726.9,580.2 L734.5,575.5 L742.1,569.8 L749.7,563.9 L757.3,558.9 L764.9,555.0 L772.5,551.5 L780.0,548.5 L787.6,547.8 L795.2,547.8 L802.8,541.5 L810.4,541.5 L825.6,529.0 L833.2,529.0 L840.8,522.7 L856.0,522.7 L863.6,516.4 L871.1,516.4 L878.7,510.1 L893.9,510.1 L901.5,503.8 L924.3,503.8"/>
</g>
<text transform="translate(453.6,1078.8) scale(0.961,1)" text-anchor="middle" font-family="'Liberation Sans', Arial, sans-serif" font-weight="bold" font-size="21.85" fill="#000">0</text>
<text transform="translate(544.7,1078.8) scale(0.961,1)" text-anchor="middle" font-family="'Liberation Sans', Arial, sans-serif" font-weight="bold" font-size="21.85" fill="#000">1</text>
<text transform="translate(635.8,1078.8) scale(0.961,1)" text-anchor="middle" font-family="'Liberation Sans', Arial, sans-serif" font-weight="bold" font-size="21.85" fill="#000">2</text>
<text transform="translate(726.9,1078.8) scale(0.961,1)" text-anchor="middle" font-family="'Liberation Sans', Arial, sans-serif" font-weight="bold" font-size="21.85" fill="#000">3</text>
<text transform="translate(818.0,1078.8) scale(0.961,1)" text-anchor="middle" font-family="'Liberation Sans', Arial, sans-serif" font-weight="bold" font-size="21.85" fill="#000">4</text>
<text transform="translate(909.1,1078.8) scale(0.961,1)" text-anchor="middle" font-family="'Liberation Sans', Arial, sans-serif" font-weight="bold" font-size="21.85" fill="#000">5</text>
<text transform="translate(441.8,1056.7) scale(0.961,1)" text-anchor="end" font-family="'Liberation Sans', Arial, sans-serif" font-weight="bold" font-size="21.85" fill="#000">20</text>
<text transform="translate(441.8,931.1) scale(0.961,1)" text-anchor="end" font-family="'Liberation Sans', Arial, sans-serif" font-weight="bold" font-size="21.85" fill="#000">40</text>
<text transform="translate(441.8,805.5) scale(0.961,1)" text-anchor="end" font-family="'Liberation Sans', Arial, sans-serif" font-weight="bold" font-size="21.85" fill="#000">60</text>
<text transform="translate(441.8,679.9) scale(0.961,1)" text-anchor="end" font-family="'Liberation Sans', Arial, sans-serif" font-weight="bold" font-size="21.85" fill="#000">80</text>
<text transform="translate(681.5,1099.5) scale(0.961,1)" text-anchor="middle" font-family="'Liberation Sans', Arial, sans-serif" font-weight="bold" font-size="19.77" fill="#000">Time(min)</text>
<text transform="translate(410.0,938.2) rotate(-90) scale(0.961,1)" text-anchor="start" font-family="'Liberation Sans', Arial, sans-serif" font-weight="bold" font-size="20.29" fill="#000">Temperature<tspan font-family="'Liberation Serif', 'Times New Roman', serif" font-weight="normal" font-size="20.3" dx="0.4" dy="0.5">(</tspan><tspan font-size="15.61" dx="0" dy="-7.3">o</tspan><tspan dy="6.8">C</tspan><tspan font-family="'Liberation Serif', 'Times New Roman', serif" font-weight="normal" font-size="20.3" dx="-0.2" dy="0.5">)</tspan></text>
</svg>
</body></html>
